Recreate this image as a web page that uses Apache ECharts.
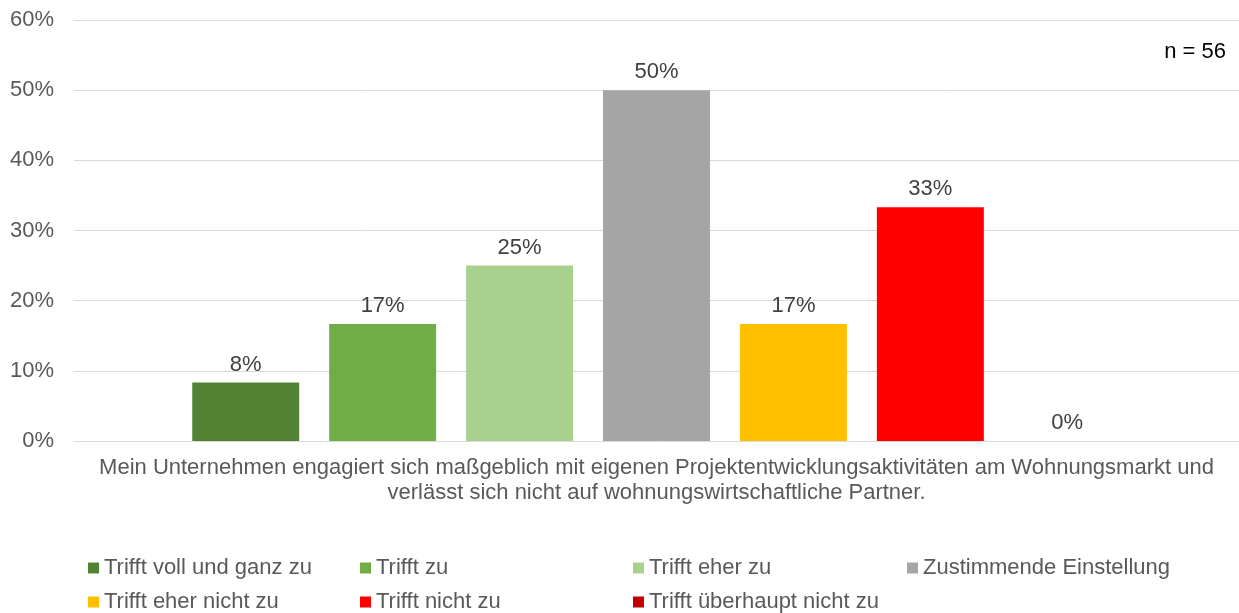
<!DOCTYPE html>
<html>
<head>
<meta charset="utf-8">
<script src="https://cdn.jsdelivr.net/npm/echarts@6/dist/echarts.min.js"></script>
<style>
  html, body { margin: 0; padding: 0; background: #fff; }
  #chart { width: 1239px; height: 613px; }
</style>
</head>
<body>
<div id="chart"></div>
<script>
// Survey statement (single category on the x axis)
const categories = ['Mein Unternehmen engagiert sich maßgeblich mit eigenen Projektentwicklungsaktivitäten am Wohnungsmarkt und\nverlässt sich nicht auf wohnungswirtschaftliche Partner.'];
// Answer options, one bar each
const seriesNames = ['Trifft voll und ganz zu', 'Trifft zu', 'Trifft eher zu', 'Zustimmende Einstellung', 'Trifft eher nicht zu', 'Trifft nicht zu', 'Trifft überhaupt nicht zu'];
// Share of answers in percent
const seriesValues = [8.33, 16.67, 25, 50, 16.67, 33.33, 0];
const seriesColors = ['#548235', '#70AD47', '#A9D18E', '#A5A5A5', '#FFC000', '#FF0000', '#C00000'];
const yTicks = [0, 10, 20, 30, 40, 50, 60];
const sampleNote = 'n = 56';

const FONT = '"Liberation Sans", Arial, sans-serif';
const TEXT = '#595959';
const FS = 22;

// Legend laid out as a 4-column grid
const legendCols = [88, 360, 633, 907];
const legendRows = [557, 591];
const legends = seriesNames.map((name, i) => ({
  data: [name],
  left: legendCols[i % 4],
  top: legendRows[Math.floor(i / 4)],
  icon: 'rect',
  itemWidth: 11,
  itemHeight: 11,
  itemGap: 0,
  padding: 0,
  selectedMode: false,
  textStyle: { fontFamily: FONT, fontSize: FS, color: TEXT }
}));

const series = seriesNames.map((name, i) => ({
  name: name,
  type: 'bar',
  data: [seriesValues[i]],
  itemStyle: { color: seriesColors[i] },
  barGap: '28%',
  barCategoryGap: '20.3%',
  label: {
    show: true,
    position: 'top',
    distance: 7,
    fontFamily: FONT,
    fontSize: FS,
    color: '#404040',
    formatter: p => Math.round(p.value) + '%'
  }
}));

const chart = echarts.init(document.getElementById('chart'), null, { renderer: 'canvas' });
chart.setOption({
  animation: false,
  backgroundColor: '#fff',
  grid: { left: 74, right: 0, top: 20, bottom: 172, containLabel: false },
  legend: legends,
  xAxis: {
    type: 'category',
    data: categories,
    axisLine: { show: true, lineStyle: { color: '#D9D9D9', width: 1 } },
    axisTick: { show: false },
    axisLabel: {
      margin: 14,
      fontFamily: FONT,
      fontSize: FS,
      lineHeight: 25,
      color: TEXT,
      align: 'center'
    }
  },
  yAxis: {
    type: 'value',
    min: yTicks[0],
    max: yTicks[yTicks.length - 1],
    interval: 10,
    axisLine: { show: false },
    axisTick: { show: false },
    splitLine: { lineStyle: { color: '#D9D9D9', width: 1 } },
    axisLabel: {
      margin: 20,
      fontFamily: FONT,
      fontSize: FS,
      color: TEXT,
      formatter: v => v + '%'
    }
  },
  graphic: [{
    type: 'text',
    right: 13,
    top: 41,
    style: { text: sampleNote, fontFamily: FONT, fontSize: FS, fill: '#000' }
  }],
  series: series
});
</script>
</body>
</html>
